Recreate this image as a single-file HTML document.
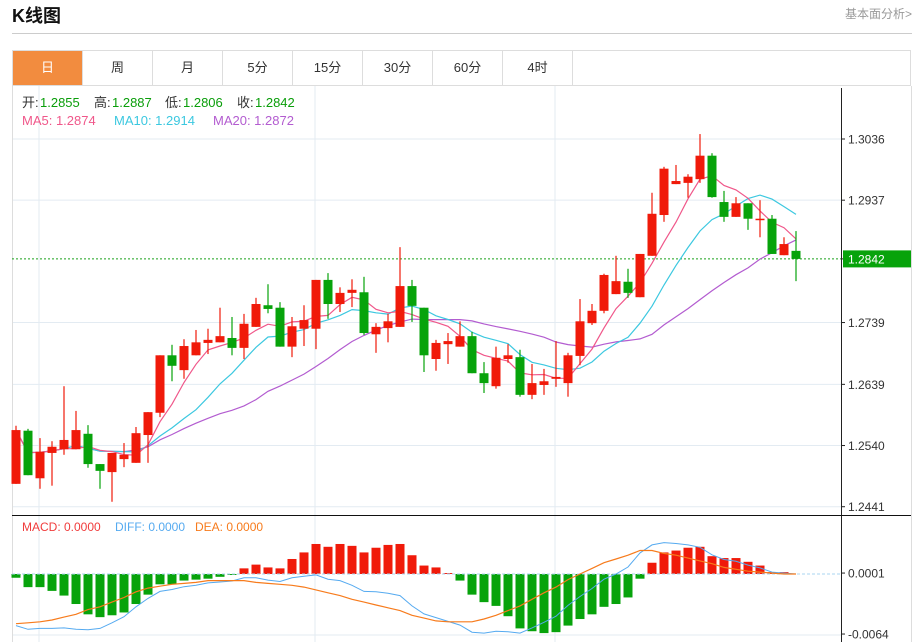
<!DOCTYPE html>
<html><head><meta charset="utf-8"><style>
body{margin:0;width:920px;height:642px;overflow:hidden;background:#fff;font-family:"Liberation Sans","Noto Sans CJK SC",sans-serif;position:relative}
.title{position:absolute;left:12px;top:2px;font-size:18px;font-weight:bold;color:#111}
.more{position:absolute;right:8px;top:5px;font-size:12px;color:#999}
.hr{position:absolute;left:12px;top:33px;width:900px;height:1px;background:#ccc}
.tabs{position:absolute;left:12px;top:50px;width:899px;height:36px;border:1px solid #ddd;border-bottom:1px solid #ddd;box-sizing:border-box;display:flex}
.tab{width:70px;height:34px;line-height:34px;text-align:center;font-size:13px;color:#333;border-right:1px solid #ddd;box-sizing:border-box}
.tab.on{background:#f28c3f;color:#fff}
svg{position:absolute;left:0;top:0}
</style></head><body>
<div class="title">K线图</div>
<div class="more">基本面分析&gt;</div>
<div class="hr"></div>
<div class="tabs">
<div class="tab on">日</div>
<div class="tab">周</div>
<div class="tab">月</div>
<div class="tab">5分</div>
<div class="tab">15分</div>
<div class="tab">30分</div>
<div class="tab">60分</div>
<div class="tab">4时</div>
</div>
<svg id="chart" width="920" height="642"></svg>
<script>
const opens=[1.2478,1.2564,1.2487,1.2528,1.2534,1.2534,1.2559,1.2510,1.2497,1.2518,1.2512,1.2557,1.2593,1.2686,1.2662,1.2686,1.2706,1.2707,1.2714,1.2698,1.2732,1.2767,1.2763,1.2700,1.2729,1.2729,1.2808,1.2769,1.2787,1.2788,1.2720,1.2730,1.2732,1.2798,1.2763,1.2680,1.2704,1.2700,1.2717,1.2657,1.2636,1.2680,1.2683,1.2622,1.2638,1.2648,1.2641,1.2685,1.2738,1.2758,1.2785,1.2805,1.2780,1.2847,1.2913,1.2963,1.2965,1.2971,1.3009,1.2934,1.2910,1.2932,1.2905,1.2907,1.2848,1.2855];
const closes=[1.2565,1.2492,1.2530,1.2538,1.2549,1.2565,1.2510,1.2499,1.2528,1.2525,1.2560,1.2594,1.2686,1.2669,1.2701,1.2707,1.2711,1.2717,1.2698,1.2737,1.2769,1.2761,1.2700,1.2733,1.2743,1.2808,1.2769,1.2787,1.2792,1.2722,1.2732,1.2741,1.2798,1.2766,1.2686,1.2706,1.2709,1.2717,1.2657,1.2641,1.2682,1.2686,1.2622,1.2641,1.2644,1.2651,1.2686,1.2741,1.2758,1.2816,1.2806,1.2787,1.2850,1.2915,1.2988,1.2968,1.2975,1.3009,1.2942,1.2910,1.2932,1.2907,1.2907,1.2850,1.2866,1.2842];
const highs=[1.2572,1.2567,1.2552,1.2547,1.2636,1.2596,1.2573,1.2510,1.2528,1.2544,1.2570,1.2594,1.2686,1.2703,1.2712,1.2727,1.2729,1.2763,1.2748,1.2753,1.2779,1.2801,1.2772,1.2748,1.2767,1.2808,1.2819,1.2796,1.2809,1.2813,1.2738,1.2753,1.2861,1.2808,1.2763,1.2711,1.2722,1.2741,1.2724,1.2675,1.2700,1.2704,1.2695,1.2672,1.2664,1.2709,1.2690,1.2777,1.2769,1.2818,1.2847,1.2826,1.2850,1.2949,1.2991,1.2994,1.2979,1.3044,1.3013,1.2952,1.2942,1.2932,1.2937,1.2913,1.2877,1.2887];
const lows=[1.2478,1.2492,1.2470,1.2475,1.2525,1.2534,1.2504,1.2470,1.2449,1.2505,1.2512,1.2512,1.2586,1.2644,1.2648,1.2686,1.2688,1.2707,1.2686,1.2680,1.2732,1.2754,1.2700,1.2683,1.2701,1.2696,1.2745,1.2756,1.2764,1.2719,1.2690,1.2707,1.2732,1.2740,1.2659,1.2661,1.2672,1.2700,1.2657,1.2625,1.2632,1.2674,1.2619,1.2615,1.2622,1.2635,1.2619,1.2670,1.2735,1.2754,1.2785,1.2779,1.2780,1.2847,1.2902,1.2963,1.2941,1.2965,1.2941,1.2902,1.2910,1.2889,1.2877,1.2850,1.2848,1.2806];
const macdHist=[-0.0004,-0.0014,-0.0014,-0.0018,-0.0023,-0.0032,-0.0043,-0.0046,-0.0044,-0.0041,-0.0032,-0.0022,-0.0011,-0.0011,-0.0007,-0.0006,-0.0005,-0.0003,-0.0001,0.0006,0.0010,0.0007,0.0006,0.0016,0.0023,0.0032,0.0029,0.0032,0.0030,0.0023,0.0028,0.0031,0.0032,0.0020,0.0009,0.0007,0.0001,-0.0007,-0.0022,-0.0030,-0.0034,-0.0045,-0.0058,-0.0061,-0.0063,-0.0062,-0.0055,-0.0048,-0.0043,-0.0035,-0.0032,-0.0025,-0.0005,0.0012,0.0023,0.0025,0.0028,0.0029,0.0019,0.0017,0.0017,0.0013,0.0009,0.0002,0.0002,0.0000];
const deaValues=[-0.0053,-0.0052,-0.0051,-0.0049,-0.0046,-0.0043,-0.0038,-0.0035,-0.0030,-0.0025,-0.0019,-0.0015,-0.0013,-0.0011,-0.0010,-0.0009,-0.0007,-0.0007,-0.0007,-0.0007,-0.0009,-0.0010,-0.0011,-0.0012,-0.0014,-0.0017,-0.0020,-0.0023,-0.0027,-0.0030,-0.0033,-0.0036,-0.0039,-0.0044,-0.0047,-0.0050,-0.0051,-0.0051,-0.0051,-0.0048,-0.0044,-0.0039,-0.0034,-0.0027,-0.0020,-0.0014,-0.0006,0.0000,0.0006,0.0012,0.0016,0.0020,0.0025,0.0025,0.0022,0.0020,0.0017,0.0014,0.0011,0.0007,0.0005,0.0003,0.0002,0.0001,0.0000,0.0000];
const priceTicks=[1.3036,1.2937,1.2842,1.2739,1.2639,1.2540,1.2441];
const macdTicks=[0.0001,-0.0064];

const NS="http://www.w3.org/2000/svg";
const svg=document.getElementById('chart');
function xS(i){return 16+12*i;}
function yP(p){return 139+(1.3036-p)*6180;}
function yM(v){return 574-v*9380;}
function mk(tag,attrs,parent){const e=document.createElementNS(NS,tag);for(const k in attrs)e.setAttribute(k,attrs[k]);(parent||svg).appendChild(e);return e;}

// grid
const grid=mk('g',{});


priceTicks.forEach(p=>{if(p!==1.2842)mk('line',{x1:12,x2:841,y1:yP(p),y2:yP(p),stroke:'#e3ebf2','stroke-width':1},grid);});
mk('line',{x1:12,x2:841,y1:635,y2:635,stroke:'#e3ebf2'},grid);
[39,315,555].forEach(x=>mk('line',{x1:x,x2:x,y1:86,y2:642,stroke:'#e3ebf2'},grid));
mk('line',{x1:911.5,x2:911.5,y1:86,y2:642,stroke:'#ddd'},grid);
mk('line',{x1:12.5,x2:12.5,y1:86,y2:642,stroke:'#ddd'},grid);

// legend
const lg=mk('g',{'font-size':13});


const leg1=[['开:','#333',22],['1.2855','#0a9e0a',40],['高:','#333',94],['1.2887','#0a9e0a',112],['低:','#333',165],['1.2806','#0a9e0a',183],['收:','#333',237],['1.2842','#0a9e0a',255]];
leg1.forEach(a=>{const t=mk('text',{x:a[2],y:107,fill:a[1]},lg);t.textContent=a[0];});
[['MA5: 1.2874','#f0578a',22],['MA10: 1.2914','#3cc8e0',114],['MA20: 1.2872','#b35cd0',213]].forEach(a=>{const t=mk('text',{x:a[2],y:125,fill:a[1]},lg);t.textContent=a[0];});
const mg=mk('g',{'font-size':12});


[['MACD: 0.0000','#f03c3c',22],['DIFF: 0.0000','#55aaf0',115],['DEA: 0.0000','#f77b1c',195]].forEach(a=>{const t=mk('text',{x:a[2],y:531,fill:a[1]},mg);t.textContent=a[0];});

// last price line
const lp=mk('line',{x1:12,x2:841,y1:yP(closes[closes.length-1]),y2:yP(closes[closes.length-1]),stroke:'#1aa01a','stroke-dasharray':'2,2'});



// MA lines
function ma(n){return closes.map((c,i)=>{const s=Math.max(0,i-n+1);let sum=0;for(let k=s;k<=i;k++)sum+=closes[k];return sum/(i-s+1);});}
[[20,'#b35cd0','ma20-line'],[10,'#3cc8e0','ma10-line'],[5,'#f0578a','ma5-line']].forEach(m=>{
 const v=ma(m[0]);
 const pl=mk('polyline',{points:v.map((p,i)=>xS(i)+','+yP(p).toFixed(1)).join(' '),fill:'none',stroke:m[1],'stroke-width':1.2});
 
 
});

// candles
const cg=mk('g',{});


opens.forEach((o,i)=>{
 const c=closes[i],up=c>=o,col=up?'#f01a0a':'#07a30b',x=xS(i);
 const g=mk('g',{},cg);
 
 
 mk('line',{x1:x,x2:x,y1:yP(highs[i]),y2:yP(lows[i]),stroke:col,'stroke-width':1.2},g);
 const t=yP(Math.max(o,c)),b=yP(Math.min(o,c));
 mk('rect',{x:x-4.5,y:t,width:9,height:Math.max(1.5,b-t),fill:col},g);
});

// macd
const hg=mk('g',{});


macdHist.forEach((v,i)=>{
 const y0=yM(0),y1=yM(v);
 const r=mk('rect',{x:xS(i)-4.5,y:Math.min(y0,y1),width:9,height:Math.abs(y1-y0),fill:v>=0?'#f01a0a':'#07a30b'},hg);
 
 
});
const zl=mk('line',{x1:12,x2:841,y1:yM(0),y2:yM(0),stroke:'#a8d4f0','stroke-dasharray':'3,2'});


const diffVals=deaValues.map((d,i)=>d+macdHist[i]/2);
const dl=mk('polyline',{points:diffVals.map((v,i)=>xS(i)+','+yM(v).toFixed(1)).join(' '),fill:'none',stroke:'#55aaf0','stroke-width':1});


const el=mk('polyline',{points:deaValues.map((v,i)=>xS(i)+','+yM(v).toFixed(1)).join(' '),fill:'none',stroke:'#f77b1c','stroke-width':1.2});



// axes
const ax=mk('g',{});


mk('line',{x1:841.5,x2:841.5,y1:88,y2:642,stroke:'#222'},ax);
mk('line',{x1:12,x2:911,y1:515.5,y2:515.5,stroke:'#111'},ax);
priceTicks.forEach(p=>{
 const y=yP(p);
 mk('line',{x1:841,x2:845,y1:y,y2:y,stroke:'#222'},ax);
 if(p===1.2842){
  const r=mk('rect',{x:843,y:y-8.5,width:68,height:17,fill:'#07a30b'},ax);
  
  
  const t=mk('text',{x:848,y:y+4.5,'font-size':12,fill:'#fff'},ax);t.textContent=p.toFixed(4);
 } else {
  const t=mk('text',{x:848,y:y+4.5,'font-size':12,fill:'#333'},ax);t.textContent=p.toFixed(4);
 }
});
macdTicks.forEach(v=>{
 const y=yM(v)+(v<0?0:0);
 mk('line',{x1:841,x2:845,y1:y,y2:y,stroke:'#222'},ax);
 const t=mk('text',{x:848,y:y+4.5,'font-size':12,fill:'#333'},ax);t.textContent=v.toFixed(4);
});
</script>
</body></html>
